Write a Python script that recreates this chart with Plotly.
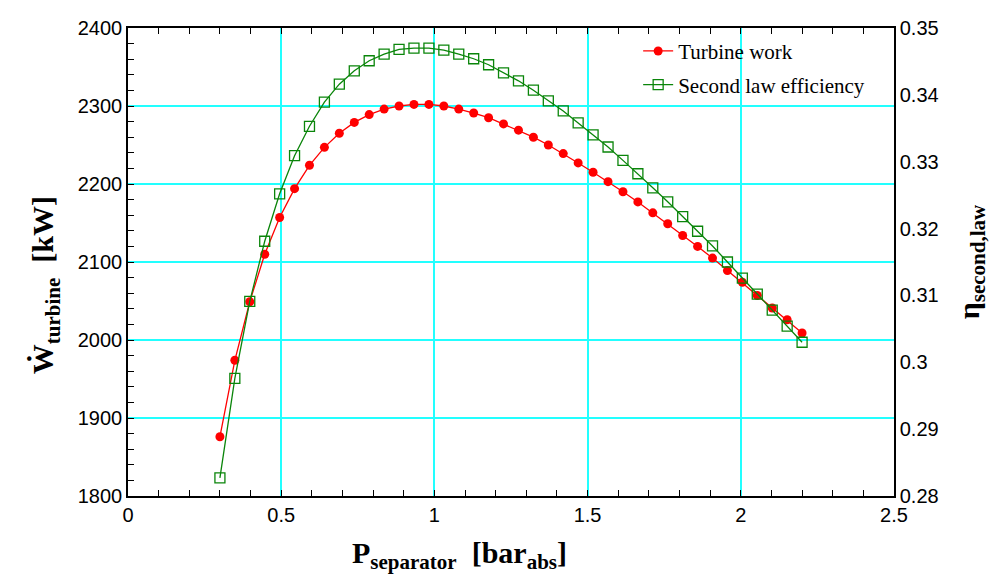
import plotly.graph_objects as go

# Separator pressure [bar_abs] (40 points from 0.3 to 2.2)
p_sep = [0.3000, 0.3487, 0.3974, 0.4462, 0.4949, 0.5436, 0.5923, 0.6410, 0.6897, 0.7385,
         0.7872, 0.8359, 0.8846, 0.9333, 0.9821, 1.0308, 1.0795, 1.1282, 1.1769, 1.2256,
         1.2744, 1.3231, 1.3718, 1.4205, 1.4692, 1.5179, 1.5667, 1.6154, 1.6641, 1.7128,
         1.7615, 1.8103, 1.8590, 1.9077, 1.9564, 2.0051, 2.0538, 2.1026, 2.1513, 2.2000]

# Turbine work [kW]
w_turbine = [1876, 1974, 2049, 2110, 2157, 2194, 2224, 2247, 2265, 2279,
             2289, 2296, 2300, 2302, 2302, 2300, 2296, 2291, 2285, 2277,
             2269, 2260, 2250, 2239, 2227, 2215, 2203, 2190, 2177, 2163,
             2149, 2134, 2120, 2105, 2089, 2074, 2057, 2041, 2026, 2009]

# Second law efficiency [-]
eta_2 = [0.2827, 0.2976, 0.3091, 0.3181, 0.3252, 0.3309, 0.3353, 0.3389, 0.3416, 0.3436,
         0.3451, 0.3461, 0.3468, 0.3470, 0.3470, 0.3467, 0.3461, 0.3454, 0.3445, 0.3433,
         0.3421, 0.3407, 0.3391, 0.3376, 0.3358, 0.3340, 0.3322, 0.3302, 0.3282, 0.3261,
         0.3240, 0.3218, 0.3196, 0.3174, 0.3150, 0.3126, 0.3102, 0.3078, 0.3054, 0.3030]

x_title = "P<sub>separator</sub>  [bar<sub>abs</sub>]"
y_title = "Ẇ<sub>turbine</sub>  [kW]"
y2_title = "η<sub>second,law</sub>"

RED = "#ff0000"
GREEN = "#0a850a"
GRID = "#22ffff"
SERIF = "Liberation Serif, Times New Roman, serif"
SANS = "Liberation Sans, Arial, sans-serif"

title_font = dict(family=SERIF, size=30, color="black", weight="bold")

fig = go.Figure()
fig.add_trace(go.Scatter(
    x=p_sep, y=w_turbine, name="Turbine work", mode="lines+markers",
    line=dict(color=RED, width=1.3),
    marker=dict(symbol="circle", size=9, color=RED),
    yaxis="y", legend="legend"))
fig.add_trace(go.Scatter(
    x=p_sep, y=eta_2, name="Second law efficiency", mode="lines+markers",
    line=dict(color=GREEN, width=1.3),
    marker=dict(symbol="square-open", size=10, color=GREEN, line=dict(width=1.3)),
    yaxis="y2", legend="legend2"))

fig.update_layout(
    width=990, height=574,
    margin=dict(l=128, r=96, t=28, b=78),
    paper_bgcolor="white", plot_bgcolor="white",
    showlegend=True,
    xaxis=dict(
        range=[0, 2.5], dtick=0.5, tick0=0, automargin=False,
        showline=True, linecolor="black", linewidth=1.5, mirror="allticks",
        ticks="inside", ticklen=6, tickcolor="black",
        minor=dict(dtick=0.1, ticks="inside", ticklen=6, tickcolor="black", showgrid=False),
        showgrid=True, gridcolor=GRID, gridwidth=1.5,
        zeroline=False,
        tickfont=dict(family=SANS, size=20, color="black"),
    ),
    yaxis=dict(
        range=[1800, 2400], dtick=100, tick0=1800, automargin=False,
        showline=True, linecolor="black", linewidth=1.5, mirror=False,
        ticks="inside", ticklen=6, tickcolor="black",
        minor=dict(dtick=20, ticks="inside", ticklen=6, tickcolor="black", showgrid=False),
        showgrid=True, gridcolor=GRID, gridwidth=1.5,
        zeroline=False,
        tickfont=dict(family=SANS, size=20, color="black"),
    ),
    yaxis2=dict(
        range=[0.28, 0.35], dtick=0.01, tick0=0.28, automargin=False,
        overlaying="y", side="right",
        showline=True, linecolor="black", linewidth=1.5,
        ticks="", showgrid=False, zeroline=False,
        tickformat="~g",
        tickfont=dict(family=SANS, size=20, color="black"),
        title=dict(text=y2_title, font=title_font, standoff=26),
    ),
    legend=dict(x=0.666, y=0.994, xanchor="left", yanchor="top",
                bgcolor="rgba(0,0,0,0)", borderwidth=0,
                font=dict(family=SERIF, size=21, color="black")),
    legend2=dict(x=0.666, y=0.922, xanchor="left", yanchor="top",
                 bgcolor="rgba(0,0,0,0)", borderwidth=0,
                 font=dict(family=SERIF, size=21, color="black")),
    annotations=[
        dict(text=x_title, xref="paper", yref="paper", x=0.4334, y=-0.126,
             xanchor="center", yanchor="middle", showarrow=False, font=title_font),
        dict(text=y_title, xref="paper", yref="paper", x=-0.108, y=0.451,
             xanchor="center", yanchor="middle", textangle=-90, showarrow=False,
             font=title_font),
    ],
)

fig.write_html("out.html")
